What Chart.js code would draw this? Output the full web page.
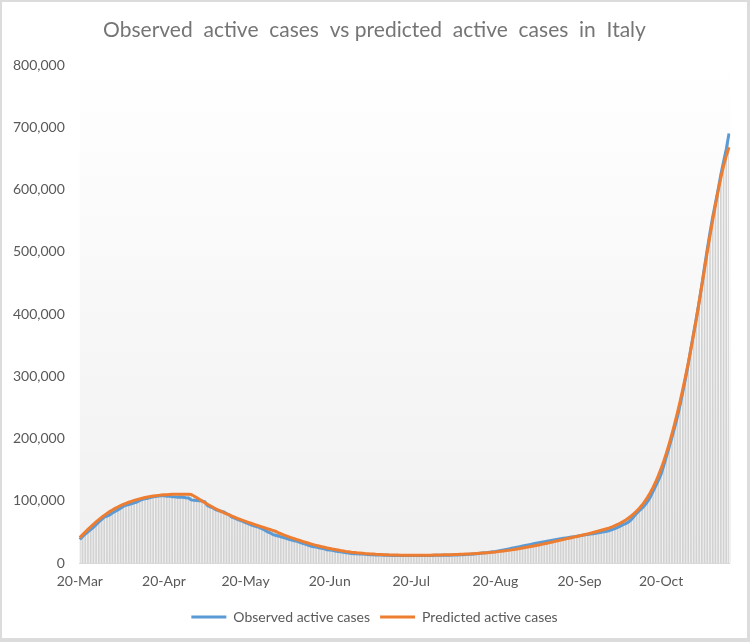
<!DOCTYPE html>
<html>
<head>
<meta charset="utf-8">
<script src="https://cdn.jsdelivr.net/npm/chart.js@4.4.1/dist/chart.umd.min.js"></script>
<style>
  body { margin: 0; background: #dcdcdc; }
  #box { position: absolute; left: 2px; top: 2px; width: 745px; height: 636px; background: #fff; overflow: hidden; }
  canvas { display: block; }
</style>
</head>
<body>
<div id="box"><canvas id="myChart" width="745" height="636"></canvas></div>
<script>
// daily values, 20 Mar 2020 .. 14 Nov 2020
const observed = [
  // Mar
  38000, 42700, 46600, 50400, 54000, 57500, 62000, 66400, 70100, 73900, 75500, 77600,
  // Apr
  80600, 83000, 85400, 88300, 91200, 93200, 94100, 95300, 96900, 98300,
  100300, 102300, 103600, 104300, 105400, 106600, 107000, 107800, 108300, 108200,
  107700, 107700, 106800, 106500, 105800, 106100, 105800, 105200, 104700, 101600,
  // May
  100900, 100700, 100200, 100000, 98500, 92500, 90600, 89000, 86000, 84500,
  83500, 82300, 79800, 77800, 74000, 72300, 70600, 68800, 67300, 65200,
  63400, 61700, 60200, 58900, 57600, 55300, 53400, 50600, 48800, 46400, 44800,
  // Jun
  43800, 42200, 41200, 40000, 38400, 37100, 36100, 35200, 33300, 31900,
  30700, 29100, 27600, 26400, 25900, 24600, 23900, 23100, 21600, 21000,
  20600, 19600, 18700, 18300, 17600, 16800, 16500, 15600, 15300, 15100,
  // Jul
  14900, 14600, 14200, 14000, 13600, 13500, 13300, 13200, 13000, 12900,
  12800, 12600, 12500, 12500, 12400, 12300, 12300, 12400, 12200, 12200,
  12300, 12400, 12400, 12500, 12500, 12400, 12400, 12500, 12600, 12600, 12700,
  // Aug
  12800, 12900, 12900, 13000, 13100, 13300, 13500, 13700, 14000, 14200,
  14500, 14900, 15300, 15700, 16200, 16700, 17200, 17800, 18400, 19000,
  19700, 20500, 21300, 22100, 23000, 23900, 24800, 25700, 26600, 27500, 28400,
  // Sep
  29300, 30200, 31100, 32000, 32900, 33700, 34500, 35300, 36100, 36900,
  37700, 38500, 39200, 39900, 40600, 41300, 42000, 42700, 43400, 44100,
  44800, 45500, 46200, 46800, 47400, 48000, 48700, 49500, 50300, 51200,
  // Oct
  52500, 54000, 55500, 57400, 59500, 61800, 63500, 66000, 70000, 75000,
  80000, 84500, 88500, 93000, 99000, 106000, 115000, 124000, 133000, 143000,
  157000, 172000, 187000, 202000, 218000, 235000, 254000, 275000, 297000, 320000, 346000,
  // Nov
  370000, 394000, 420000, 447000, 476000, 504000, 531000, 556000, 578000, 600000,
  624000, 645000, 665000, 690000
];

const predicted = [
  // Mar
  41000, 45500, 50000, 54300, 58500, 62500, 66300, 70000, 73500, 76800, 79900, 82800,
  // Apr
  85500, 88000, 90300, 92400, 94400, 96200, 97900, 99400, 100800, 102100,
  103300, 104400, 105400, 106300, 107100, 107800, 108400, 108900, 109400, 109800,
  110100, 110400, 110600, 110700, 110800, 110800, 110800, 110700, 110600, 110300,
  // May
  108000, 105500, 102800, 100000, 97300, 94700, 92200, 89800, 87500, 85300,
  83200, 81200, 79300, 77400, 75600, 73800, 72100, 70400, 68800, 67200,
  65600, 64100, 62600, 61100, 59700, 58300, 56900, 55500, 54100, 52700, 51300,
  // Jun
  49000, 47300, 45600, 44000, 42400, 40800, 39300, 37800, 36400, 35000,
  33700, 32400, 31100, 29900, 28700, 27600, 26500, 25500, 24500, 23600,
  22700, 21900, 21100, 20300, 19600, 18900, 18300, 17700, 17200, 16700,
  // Jul
  16300, 15900, 15500, 15200, 14900, 14600, 14300, 14100, 13900, 13700,
  13500, 13300, 13200, 13100, 13000, 12900, 12800, 12800, 12700, 12700,
  12700, 12700, 12700, 12700, 12800, 12800, 12900, 13000, 13100, 13200, 13300,
  // Aug
  13400, 13500, 13600, 13700, 13900, 14000, 14200, 14400, 14600, 14800,
  15000, 15300, 15600, 15900, 16200, 16500, 16900, 17300, 17700, 18100,
  18600, 19100, 19600, 20200, 20800, 21400, 22100, 22800, 23500, 24300, 25100,
  // Sep
  25900, 26700, 27500, 28400, 29300, 30200, 31100, 32000, 33000, 34000,
  35000, 36000, 37000, 38000, 39000, 40000, 41000, 42000, 43000, 44000,
  45000, 46000, 47100, 48200, 49300, 50400, 51600, 52800, 54100, 55400,
  // Oct
  56800, 58400, 60200, 62200, 64400, 66800, 69500, 72500, 75800, 79500,
  83600, 88200, 93400, 99200, 105700, 113000, 121200, 130400, 140600, 151800,
  164000, 177500, 192000, 207500, 224000, 241500, 260000, 279500, 300000, 321500, 344000,
  // Nov
  368000, 393000, 419000, 446000, 473000, 500000, 526000, 551000, 575000, 598000,
  619000, 638000, 654000, 668000
];

const xTickLabels = ['20-Mar', '20-Apr', '20-May', '20-Jun', '20-Jul', '20-Aug', '20-Sep', '20-Oct'];

const monthNames = ['Jan', 'Feb', 'Mar', 'Apr', 'May', 'Jun', 'Jul', 'Aug', 'Sep', 'Oct', 'Nov', 'Dec'];
const dates = observed.map((_, i) => {
  const d = new Date(2020, 2, 20 + i);
  return d.getDate() + '-' + monthNames[d.getMonth()];
});

// drop lines from the higher of the two curves down to the axis
const dropLines = observed.map((v, i) => Math.max(v, predicted[i]));

const font = 'Lato, "Open Sans", sans-serif';

const plotBackground = {
  id: 'plotBackground',
  beforeDraw(chart) {
    const { ctx, chartArea: a } = chart;
    const g = ctx.createLinearGradient(0, a.top, 0, a.bottom);
    g.addColorStop(0, '#ffffff');
    g.addColorStop(1, '#f0f0f0');
    ctx.save();
    ctx.fillStyle = g;
    ctx.fillRect(a.left, a.top, a.right - a.left + 2, a.bottom - a.top);
    ctx.restore();
  }
};

const ctx = document.getElementById('myChart');
new Chart(ctx, {
  type: 'line',
  data: {
    labels: dates,
    datasets: [
      {
        label: 'Observed active cases',
        data: observed,
        borderColor: '#5b9bd5',
        backgroundColor: '#5b9bd5',
        borderWidth: 3,
        pointRadius: 0,
        tension: 0,
        order: 2
      },
      {
        label: 'Predicted active cases',
        data: predicted,
        borderColor: '#ed7d31',
        backgroundColor: '#ed7d31',
        borderWidth: 3,
        pointRadius: 0,
        tension: 0,
        order: 1
      },
      {
        type: 'bar',
        label: 'drop',
        data: dropLines,
        backgroundColor: '#d2d2d2',
        barThickness: 1,
        order: 3
      }
    ]
  },
  options: {
    responsive: false,
    animation: false,
    layout: { padding: { top: 15.5, right: 0, bottom: 4, left: 0 } },
    plugins: {
      title: {
        display: true,
        text: 'Observed  active  cases  vs predicted  active  cases  in  Italy',
        color: '#757575',
        font: { family: font, size: 21, weight: 'normal' },
        padding: { top: 0, bottom: 22.3 }
      },
      legend: {
        position: 'bottom',
        labels: {
          filter: item => item.datasetIndex < 2,
          sort: (a, b) => a.datasetIndex - b.datasetIndex,
          usePointStyle: true,
          pointStyle: 'line',
          pointStyleWidth: 35,
          color: '#595959',
          font: { family: font, size: 14 },
          padding: 10
        }
      },
      tooltip: { enabled: false }
    },
    scales: {
      x: {
        type: 'category',
        offset: false,
        grid: { display: false, drawTicks: false },
        border: { color: '#d9d9d9' },
        ticks: {
          autoSkip: false,
          maxRotation: 0,
          padding: 10,
          color: '#595959',
          font: { family: font, size: 14 },
          callback: function (value) {
            const l = this.getLabelForValue(value);
            return xTickLabels.includes(l) ? l : '';
          }
        }
      },
      y: {
        min: 0,
        max: 800000,
        grid: { display: false, drawTicks: false },
        border: { display: false },
        ticks: {
          stepSize: 100000,
          padding: 15,
          color: '#595959',
          font: { family: font, size: 14 },
          callback: v => v.toLocaleString('en-US')
        },
        afterFit(scale) { scale.width = 77.8; }
      },
      yRight: {
        position: 'right',
        grid: { display: false, drawTicks: false },
        border: { display: false },
        ticks: { display: false },
        afterFit(scale) { scale.width = 18; }
      }
    }
  },
  plugins: [plotBackground]
});
</script>
</body>
</html>
